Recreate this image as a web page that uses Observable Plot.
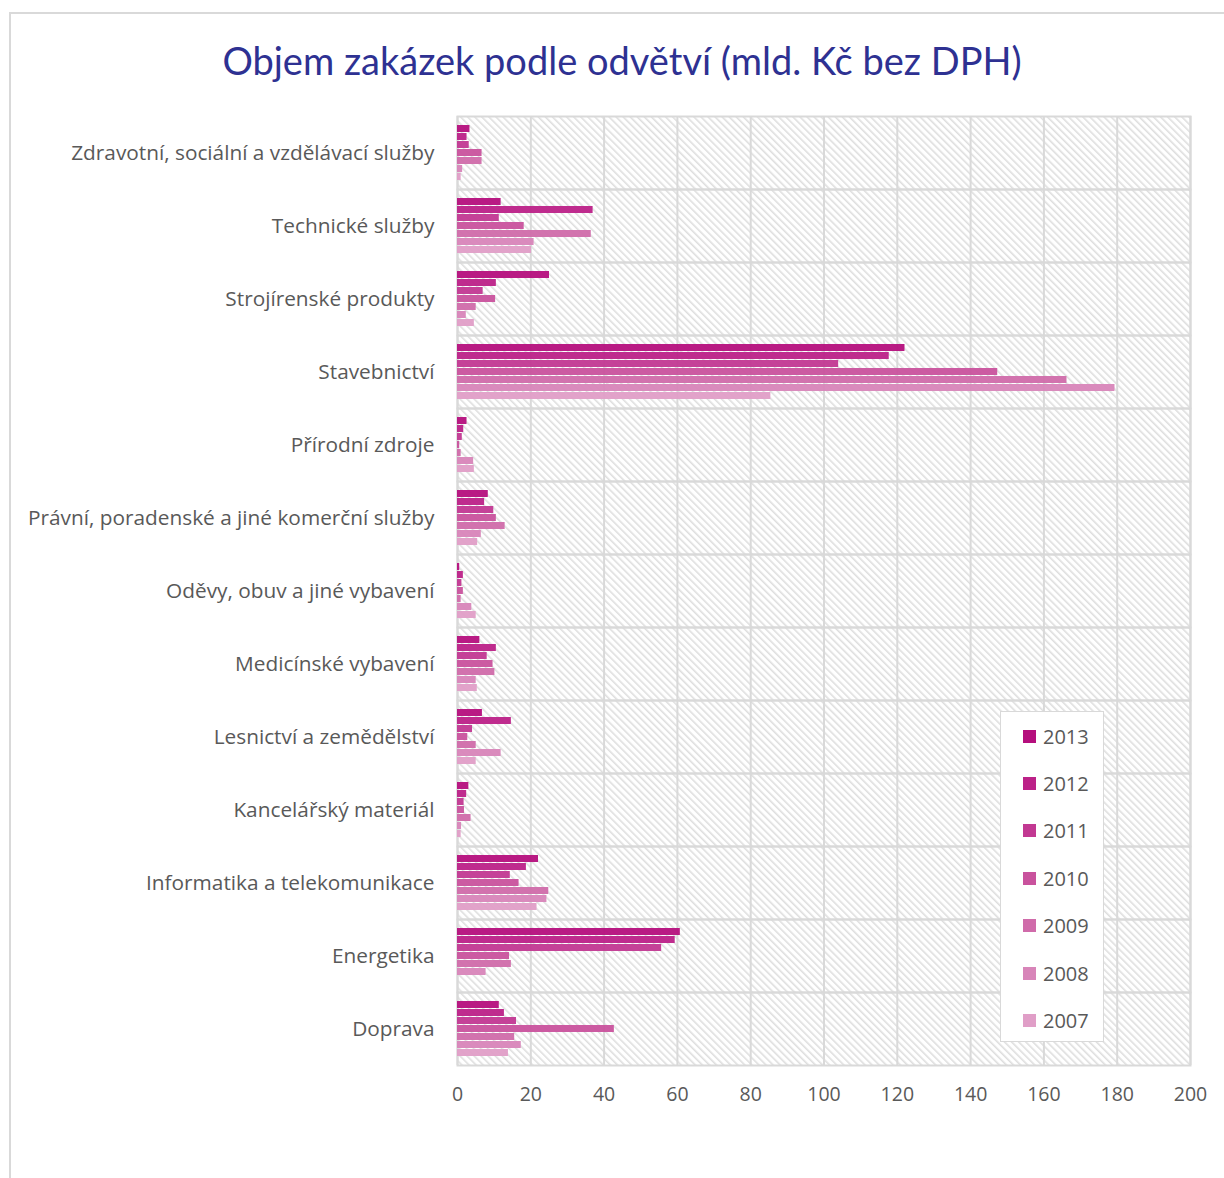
<!DOCTYPE html>
<html>
<head>
<meta charset="utf-8">
<script src="https://cdn.jsdelivr.net/npm/d3@7"></script>
<script src="https://cdn.jsdelivr.net/npm/@observablehq/plot@0.6"></script>
<style>
  html, body { margin: 0; padding: 0; background: #fff; }
  #wrap { position: relative; width: 1224px; height: 1178px; overflow: hidden; font-family: "Open Sans", Lato, sans-serif; }
  #border { position: absolute; left: 9px; top: 12px; width: 1400px; height: 1400px; border-left: 2px solid #D9D9D9; border-top: 2px solid #D9D9D9; box-sizing: border-box; }
  #title { position: absolute; left: 0; top: 0; width: 1244px; height: 100px; text-align: center; line-height: 120px; font-size: 38px; color: #2E3192; font-family: Lato, sans-serif; }
  #chart { position: absolute; left: 0; top: 100px; }
  #legend { position: absolute; left: 1000px; top: 711px; width: 104px; height: 331px; background: #fff; border: 1.5px solid #D9D9D9; box-sizing: border-box; }
  .li { position: absolute; left: 22px; height: 24px; display: flex; align-items: center; font-size: 20px; color: #595959; }
  .sw { width: 13px; height: 13px; margin-right: 7px; }
</style>
</head>
<body>
<div id="wrap">
  <div id="border"></div>
  <div id="title">Objem zakázek podle odvětví (mld. Kč bez DPH)</div>
  <div id="chart"></div>
  <div id="legend"></div>
</div>
<script>
// Categories, top to bottom
const categories = [
  "Zdravotní, sociální a vzdělávací služby",
  "Technické služby",
  "Strojírenské produkty",
  "Stavebnictví",
  "Přírodní zdroje",
  "Právní, poradenské a jiné komerční služby",
  "Oděvy, obuv a jiné vybavení",
  "Medicínské vybavení",
  "Lesnictví a zemědělství",
  "Kancelářský materiál",
  "Informatika a telekomunikace",
  "Energetika",
  "Doprava"
];
const years = ["2013", "2012", "2011", "2010", "2009", "2008", "2007"];
const colors = ["#B50F7D", "#BC2188", "#C23892", "#C9529D", "#D06BAA", "#D885B9", "#E09EC7"];

// Values (mld. Kč), in category order above
const v2013 = [3.4, 11.9, 25.1, 122.1, 2.6, 8.4, 0.6, 6.1, 6.8, 3.1, 22.1, 60.8, 11.4];
const v2012 = [2.6, 37.0, 10.6, 117.8, 1.7, 7.4, 1.6, 10.6, 14.7, 2.5, 18.8, 59.4, 12.8];
const v2011 = [3.2, 11.4, 7.0, 104.0, 1.3, 9.9, 1.2, 8.1, 4.1, 1.8, 14.4, 55.7, 16.1];
const v2010 = [6.7, 18.2, 10.4, 147.4, 0.6, 10.6, 1.6, 9.7, 2.8, 1.9, 16.8, 14.2, 42.8];
const v2009 = [6.7, 36.5, 5.1, 166.3, 1.0, 13.0, 1.0, 10.2, 5.1, 3.7, 24.9, 14.7, 15.6];
const v2008 = [1.4, 20.9, 2.4, 179.4, 4.4, 6.5, 3.9, 5.1, 11.9, 1.1, 24.4, 7.8, 17.4];
const v2007 = [1.0, 20.2, 4.6, 85.5, 4.6, 5.5, 5.1, 5.4, 5.1, 1.0, 21.7, 0.0, 13.9];
const series = [v2013, v2012, v2011, v2010, v2009, v2008, v2007];
const xTicks = [0, 20, 40, 60, 80, 100, 120, 140, 160, 180, 200];

const data = [];
categories.forEach((c, i) => {
  years.forEach((y, j) => data.push({category: c, year: y, value: series[j][i]}));
});

const grid = "#D9D9D9";
const plot = Plot.plot({
  width: 1224,
  height: 1078,
  marginTop: 13,
  marginBottom: 111,
  marginLeft: 457,
  marginRight: 34,
  style: {fontFamily: "'Open Sans', Lato, sans-serif", fontSize: "19px", color: "#595959", background: "transparent"},
  fy: {domain: categories, padding: 0, label: null, axis: null},
  y: {domain: years, paddingInner: 0.12, paddingOuter: 1.1, axis: null},
  x: {domain: [0, 200], ticks: xTicks, label: null, axis: null},
  color: {domain: years, range: colors},
  marks: [
    Plot.frame({fill: "url(#hatch)", stroke: null}),
    Plot.gridX(xTicks, {stroke: grid, strokeOpacity: 1, strokeWidth: 2}),
    Plot.frame({stroke: grid, strokeWidth: 2}),
    Plot.barX(data, {fy: "category", y: "year", x: "value", fill: "year", fillOpacity: 0.95}),
    Plot.axisX({ticks: xTicks, tickSize: 0, tickPadding: 22, fontSize: 19.5, fill: "#595959", label: null}),
    Plot.axisFy({anchor: "left", tickSize: 0, tickPadding: 23, fontSize: 20.8, fill: "#595959", label: null})
  ]
});

// hatch pattern definition
const ns = "http://www.w3.org/2000/svg";
const defs = document.createElementNS(ns, "defs");
const pat = document.createElementNS(ns, "pattern");
pat.setAttribute("id", "hatch");
pat.setAttribute("patternUnits", "userSpaceOnUse");
pat.setAttribute("width", "5");
pat.setAttribute("height", "5");
pat.setAttribute("patternTransform", "rotate(-45)");
const bg = document.createElementNS(ns, "rect");
bg.setAttribute("width", "5"); bg.setAttribute("height", "5"); bg.setAttribute("fill", "#ffffff");
const ln = document.createElementNS(ns, "rect");
ln.setAttribute("width", "1.6"); ln.setAttribute("height", "5"); ln.setAttribute("fill", "#DEDEDE");
pat.appendChild(bg); pat.appendChild(ln);
defs.appendChild(pat);
plot.insertBefore(defs, plot.firstChild);

document.getElementById("chart").appendChild(plot);

// legend
const leg = document.getElementById("legend");
years.forEach((y, i) => {
  const d = document.createElement("div");
  d.className = "li";
  d.style.top = (12 + i * 47.4) + "px";
  d.innerHTML = `<span class="sw" style="background:${colors[i]}"></span>${y}`;
  leg.appendChild(d);
});
</script>
</body>
</html>
